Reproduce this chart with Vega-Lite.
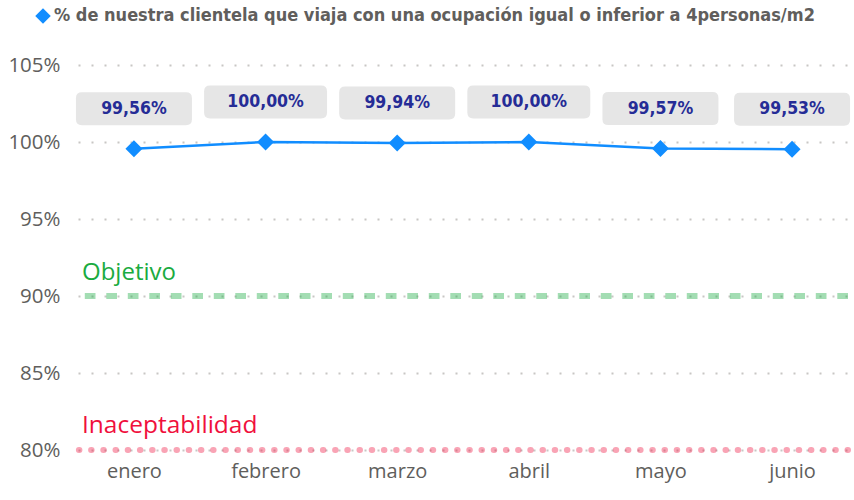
{
  "$schema": "https://vega.github.io/schema/vega-lite/v6.json",
  "width": 770,
  "height": 385,
  "autosize": {"type": "none"},
  "padding": {"left": 78, "top": 65, "right": 6, "bottom": 50},
  "background": "white",
  "config": {
    "view": {"stroke": null},
    "locale": {"number": {"decimal": ",", "thousands": ".", "grouping": [3], "currency": ["", " €"]}}
  },
  "data": {
    "values": [
      {"mes": "enero", "valor": 0.9956},
      {"mes": "febrero", "valor": 1.0},
      {"mes": "marzo", "valor": 0.9994},
      {"mes": "abril", "valor": 1.0},
      {"mes": "mayo", "valor": 0.9957},
      {"mes": "junio", "valor": 0.9953}
    ]
  },
  "encoding": {
    "x": {
      "field": "mes", "type": "ordinal", "sort": null,
      "scale": {"type": "point", "padding": 0.425},
      "axis": {"title": null, "domain": false, "ticks": false, "labelAngle": 0, "labelFontSize": 20, "labelColor": "#605e5c", "labelFont": "Open Sans", "labelPadding": 11}
    },
    "y": {
      "field": "valor", "type": "quantitative",
      "scale": {"domain": [0.8, 1.05], "nice": false, "zero": false},
      "axis": {"title": null, "values": [0.8, 0.85, 0.9, 0.95, 1, 1.05], "format": ".0%", "domain": false, "ticks": false, "labelFontSize": 20.5, "labelColor": "#605e5c", "labelFont": "Open Sans", "labelPadding": 18, "gridColor": "#c8c6c4", "gridDash": [2, 11], "gridWidth": 2}
    }
  },
  "layer": [
    {
      "data": {"values": [{"ref": "Objetivo", "v": 0.9}]},
      "mark": {"type": "rule", "color": "#1AAB40", "opacity": 0.4, "strokeWidth": 6, "strokeDash": [10.7, 10.8]},
      "encoding": {"x": null, "y": {"field": "v", "type": "quantitative"}}
    },
    {
      "data": {"values": [{"ref": "Objetivo", "v": 0.9}]},
      "mark": {"type": "text", "color": "#1AAB40", "font": "Open Sans", "fontSize": 24, "align": "left", "baseline": "alphabetic", "dy": -16},
      "encoding": {"x": {"value": 4}, "y": {"field": "v", "type": "quantitative"}, "text": {"field": "ref"}}
    },
    {
      "data": {"values": [{"ref": "Inaceptabilidad", "v": 0.8}]},
      "mark": {"type": "rule", "color": "#F0103C", "opacity": 0.38, "strokeWidth": 6, "strokeDash": [0.5, 11.7], "strokeCap": "round"},
      "encoding": {"x": null, "y": {"field": "v", "type": "quantitative"}}
    },
    {
      "data": {"values": [{"ref": "Inaceptabilidad", "v": 0.8}]},
      "mark": {"type": "text", "color": "#F0103C", "font": "Open Sans", "fontSize": 24.5, "align": "left", "baseline": "alphabetic", "dy": -17},
      "encoding": {"x": {"value": 4}, "y": {"field": "v", "type": "quantitative"}, "text": {"field": "ref"}}
    },
    {
      "mark": {"type": "point", "filled": true, "opacity": 1, "color": "#E6E6E6", "size": 13456, "yOffset": -40},
      "encoding": {
        "shape": {
          "condition": {"test": "datum.valor >= 1", "value": "M-0.957,-0.2845L0.957,-0.2845Q1.06,-0.2845 1.06,-0.1815L1.06,0.1815Q1.06,0.2845 0.957,0.2845L-0.957,0.2845Q-1.06,0.2845 -1.06,0.1815L-1.06,-0.1815Q-1.06,-0.2845 -0.957,-0.2845Z"},
          "value": "M-0.897,-0.2845L0.897,-0.2845Q1,-0.2845 1,-0.1815L1,0.1815Q1,0.2845 0.897,0.2845L-0.897,0.2845Q-1,0.2845 -1,0.1815L-1,-0.1815Q-1,-0.2845 -0.897,-0.2845Z"
        }
      }
    },
    {
      "mark": {"type": "text", "color": "#252C96", "font": "DejaVu Sans Condensed", "fontWeight": "bold", "fontSize": 17.5, "baseline": "middle", "dy": -40},
      "encoding": {"text": {"field": "valor", "type": "quantitative", "format": ".2%"}}
    },
    {
      "mark": {"type": "line", "color": "#118DFF", "strokeWidth": 2.5}
    },
    {
      "mark": {"type": "point", "shape": "diamond", "filled": true, "opacity": 1, "size": 289},
      "encoding": {
        "color": {
          "datum": "% de nuestra clientela que viaja con una ocupación igual o inferior a 4personas/m2",
          "scale": {"range": ["#118DFF"]},
          "legend": {"title": null, "orient": "none", "legendX": -44, "legendY": -58, "symbolType": "diamond", "symbolSize": 240, "symbolOpacity": 1, "labelFont": "DejaVu Sans Condensed", "labelFontWeight": "bold", "labelFontSize": 18, "labelColor": "#605e5c", "labelLimit": 0, "labelOffset": 2}
        }
      }
    }
  ]
}
